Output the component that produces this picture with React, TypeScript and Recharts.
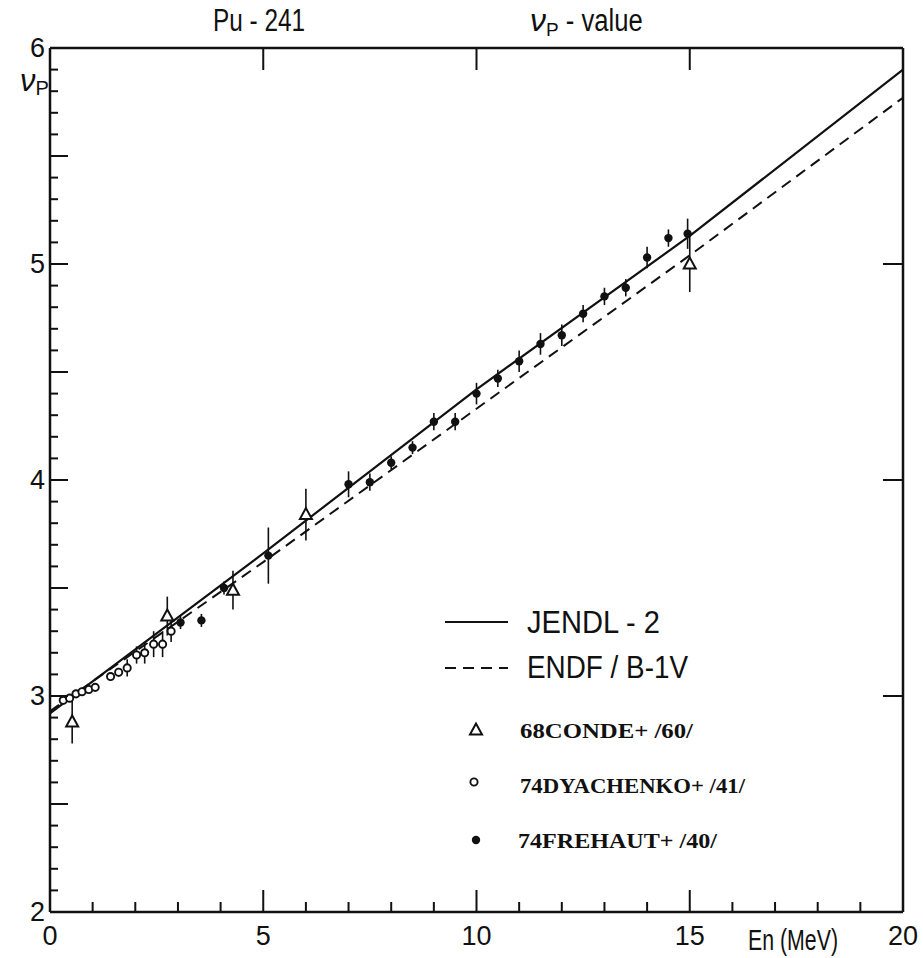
import React from "react";
import {
  ComposedChart,
  Line,
  Scatter,
  ErrorBar,
  XAxis,
  YAxis,
} from "recharts";

// evaluated curves
const jendlEnergy = [0, 5, 10, 15, 20];
const jendlNu = [2.92, 3.66, 4.42, 5.13, 5.9];
const endfEnergy = [0, 5, 10, 15, 20];
const endfNu = [2.93, 3.62, 4.33, 5.04, 5.77];

// 68CONDE+ /60/
const condeEnergy = [0.52, 2.75, 4.29, 6.0, 15.0];
const condeNu = [2.88, 3.37, 3.49, 3.84, 5.0];
const condeErr = [0.1, 0.09, 0.09, 0.12, 0.13];

// 74DYACHENKO+ /41/
const dyachEnergy = [0.31, 0.46, 0.61, 0.75, 0.91, 1.06, 1.42, 1.61, 1.81, 2.03, 2.22, 2.43, 2.64, 2.84];
const dyachNu = [2.98, 2.99, 3.01, 3.02, 3.03, 3.04, 3.09, 3.11, 3.13, 3.19, 3.2, 3.24, 3.24, 3.3];
const dyachErr = [0.01, 0.01, 0.01, 0.01, 0.01, 0.01, 0.02, 0.02, 0.04, 0.04, 0.05, 0.06, 0.06, 0.05];

// 74FREHAUT+ /40/
const frehautEnergy = [3.06, 3.55, 4.08, 5.12, 7.0, 7.5, 8.0, 8.5, 9.0, 9.5, 10.0, 10.5, 11.0, 11.5, 12.0, 12.5, 13.0, 13.5, 14.0, 14.5, 14.95];
const frehautNu = [3.34, 3.35, 3.5, 3.65, 3.98, 3.99, 4.08, 4.15, 4.27, 4.27, 4.4, 4.47, 4.55, 4.63, 4.67, 4.77, 4.85, 4.89, 5.03, 5.12, 5.14];
const frehautErr = [0.03, 0.03, 0.03, 0.13, 0.06, 0.04, 0.03, 0.03, 0.04, 0.04, 0.05, 0.04, 0.05, 0.05, 0.05, 0.04, 0.04, 0.04, 0.05, 0.04, 0.07];

const xTicks = Array.from({ length: 21 }, (_, i) => i);
const yTicks = Array.from({ length: 41 }, (_, i) => Math.round((2 + i * 0.1) * 10) / 10);
const topTicks = [5, 10, 15];
const rightTicks = [3, 4, 5];

const toRows = (xs: number[], ys: number[], errs?: number[]) =>
  xs.map((x, i) => ({ x, y: ys[i], err: errs ? errs[i] : 0 }));

const jendl = toRows(jendlEnergy, jendlNu);
const endf = toRows(endfEnergy, endfNu);
const conde = toRows(condeEnergy, condeNu, condeErr);
const dyach = toRows(dyachEnergy, dyachNu, dyachErr);
const frehaut = toRows(frehautEnergy, frehautNu, frehautErr);

// no scrollbars on the page
if (typeof document !== "undefined") {
  document.documentElement.style.overflow = "hidden";
  document.body.style.overflow = "hidden";
  document.body.style.margin = "0";
}

const INK = "#111";
const numFont = "'Liberation Sans', Arial, sans-serif";
const narrowFont = "'Liberation Sans Narrow', 'Liberation Sans', sans-serif";
const typeFont = "'Liberation Serif', 'DejaVu Serif', serif";

const BottomTick = (props: any) => {
  const { x, y, payload } = props;
  const v = payload.value;
  const major = v % 5 === 0;
  return (
    <g>
      <line x1={x} y1={y} x2={x} y2={y - (major ? 22 : 10)} stroke={INK} strokeWidth={2} />
      {major && (
        <text x={x} y={y + 33} textAnchor="middle" fontFamily={numFont} fontSize={27} fill={INK}>
          {v}
        </text>
      )}
    </g>
  );
};

const LeftTick = (props: any) => {
  const { x, y, payload } = props;
  const v = payload.value;
  const whole = Math.abs(v - Math.round(v)) < 1e-6;
  const half = Math.abs(v * 2 - Math.round(v * 2)) < 1e-6;
  return (
    <g>
      <line x1={x} y1={y} x2={x + (half ? 18 : 8)} y2={y} stroke={INK} strokeWidth={2} />
      {whole && (
        <text x={x - 5} y={y + 9} textAnchor="end" fontFamily={numFont} fontSize={27} fill={INK}>
          {v}
        </text>
      )}
    </g>
  );
};

const TopTick = (props: any) => {
  const { x, y } = props;
  return <line x1={x} y1={y} x2={x} y2={y + 22} stroke={INK} strokeWidth={2} />;
};

const RightTick = (props: any) => {
  const { x, y } = props;
  return <line x1={x} y1={y} x2={x - 20} y2={y} stroke={INK} strokeWidth={2} />;
};

const Triangle = (props: any) => {
  const { cx, cy } = props;
  return (
    <polygon
      points={`${cx},${cy - 6.5} ${cx - 6},${cy + 4.5} ${cx + 6},${cy + 4.5}`}
      fill="#fff"
      stroke={INK}
      strokeWidth={2}
    />
  );
};

const OpenDot = (props: any) => {
  const { cx, cy } = props;
  return <circle cx={cx} cy={cy} r={3.6} fill="#fff" stroke={INK} strokeWidth={1.9} />;
};

const FilledDot = (props: any) => {
  const { cx, cy } = props;
  return <circle cx={cx} cy={cy} r={4.2} fill={INK} />;
};

export default function App() {
  return (
    <div
      style={{
        position: "relative",
        width: 923,
        height: 958,
        overflow: "hidden",
        background: "#fff",
      }}
    >
      <ComposedChart
        width={923}
        height={958}
        margin={{ top: 0, right: 0, bottom: 0, left: 0 }}
      >
        <XAxis
          dataKey="x"
          type="number"
          domain={[0, 20]}
          ticks={xTicks}
          interval={0}
          height={46}
          tickSize={0}
          tickMargin={0}
          tick={<BottomTick />}
          axisLine={{ stroke: INK, strokeWidth: 2.5 }}
          allowDataOverflow
        />
        <XAxis
          xAxisId="top"
          orientation="top"
          dataKey="x"
          type="number"
          domain={[0, 20]}
          ticks={topTicks}
          height={48}
          tickSize={0}
          tickMargin={0}
          tick={<TopTick />}
          axisLine={{ stroke: INK, strokeWidth: 2.5 }}
          allowDataOverflow
        />
        <YAxis
          dataKey="y"
          type="number"
          domain={[2, 6]}
          ticks={yTicks}
          interval={0}
          width={50}
          tickSize={0}
          tickMargin={0}
          tick={<LeftTick />}
          axisLine={{ stroke: INK, strokeWidth: 2.5 }}
          allowDataOverflow
        />
        <YAxis
          yAxisId="right"
          orientation="right"
          type="number"
          domain={[2, 6]}
          ticks={rightTicks}
          width={20}
          tickSize={0}
          tickMargin={0}
          tick={<RightTick />}
          axisLine={{ stroke: INK, strokeWidth: 2.5 }}
          allowDataOverflow
        />

        <Line
          data={endf}
          dataKey="y"
          type="linear"
          stroke={INK}
          strokeWidth={2}
          strokeDasharray="11 7"
          dot={false}
          isAnimationActive={false}
        />
        <Line
          data={jendl}
          dataKey="y"
          type="linear"
          stroke={INK}
          strokeWidth={2.2}
          dot={false}
          isAnimationActive={false}
        />

        <Scatter data={conde} shape={<Triangle />} isAnimationActive={false}>
          <ErrorBar dataKey="err" direction="y" width={0} stroke={INK} strokeWidth={1.6} />
        </Scatter>
        <Scatter data={dyach} shape={<OpenDot />} isAnimationActive={false}>
          <ErrorBar dataKey="err" direction="y" width={0} stroke={INK} strokeWidth={1.6} />
        </Scatter>
        <Scatter data={frehaut} shape={<FilledDot />} isAnimationActive={false}>
          <ErrorBar dataKey="err" direction="y" width={0} stroke={INK} strokeWidth={1.6} />
        </Scatter>
      </ComposedChart>

      {/* titles, axis names and legend, in page coordinates */}
      <svg
        width={923}
        height={958}
        style={{ position: "absolute", left: 0, top: 0, pointerEvents: "none" }}
      >
        <text x={213} y={31} fontFamily={narrowFont} fontSize={31} fill={INK} textLength={92} lengthAdjust="spacingAndGlyphs">
          Pu - 241
        </text>
        <text x={530} y={31} fontFamily={narrowFont} fontSize={31} fill={INK}>
          <tspan fontStyle="italic" fontSize={32}>ν</tspan>
          <tspan fontSize={19} dy={5}>P</tspan>
          <tspan dy={-5} textLength={84} lengthAdjust="spacingAndGlyphs"> - value</tspan>
        </text>

        <text x={20} y={91} fontFamily={narrowFont} fontSize={31} fill={INK}>
          <tspan fontStyle="italic">ν</tspan>
          <tspan fontSize={20} dy={4}>P</tspan>
        </text>

        <text x={748} y={950} fontFamily={narrowFont} fontSize={30} fill={INK} textLength={90} lengthAdjust="spacingAndGlyphs">
          En (MeV)
        </text>

        <line x1={445} y1={622} x2={508} y2={622} stroke={INK} strokeWidth={2.2} />
        <text x={527} y={633} fontFamily={narrowFont} fontSize={31} fill={INK} textLength={133} lengthAdjust="spacingAndGlyphs">
          JENDL - 2
        </text>
        <line x1={445} y1={668} x2={508} y2={668} stroke={INK} strokeWidth={2} strokeDasharray="11 7" />
        <text x={527} y={678} fontFamily={narrowFont} fontSize={31} fill={INK} textLength={161} lengthAdjust="spacingAndGlyphs">
          ENDF / B-1V
        </text>

        <Triangle cx={476} cy={730} />
        <text x={520} y={738} fontFamily={typeFont} fontSize={22} fontWeight="bold" fill={INK} textLength={173} lengthAdjust="spacingAndGlyphs">
          68CONDE+ /60/
        </text>
        <OpenDot cx={474} cy={782} />
        <text x={520} y={793} fontFamily={typeFont} fontSize={22} fontWeight="bold" fill={INK} textLength={225} lengthAdjust="spacingAndGlyphs">
          74DYACHENKO+ /41/
        </text>
        <FilledDot cx={476} cy={840} />
        <text x={518} y={848} fontFamily={typeFont} fontSize={22} fontWeight="bold" fill={INK} textLength={199} lengthAdjust="spacingAndGlyphs">
          74FREHAUT+ /40/
        </text>
      </svg>
    </div>
  );
}
